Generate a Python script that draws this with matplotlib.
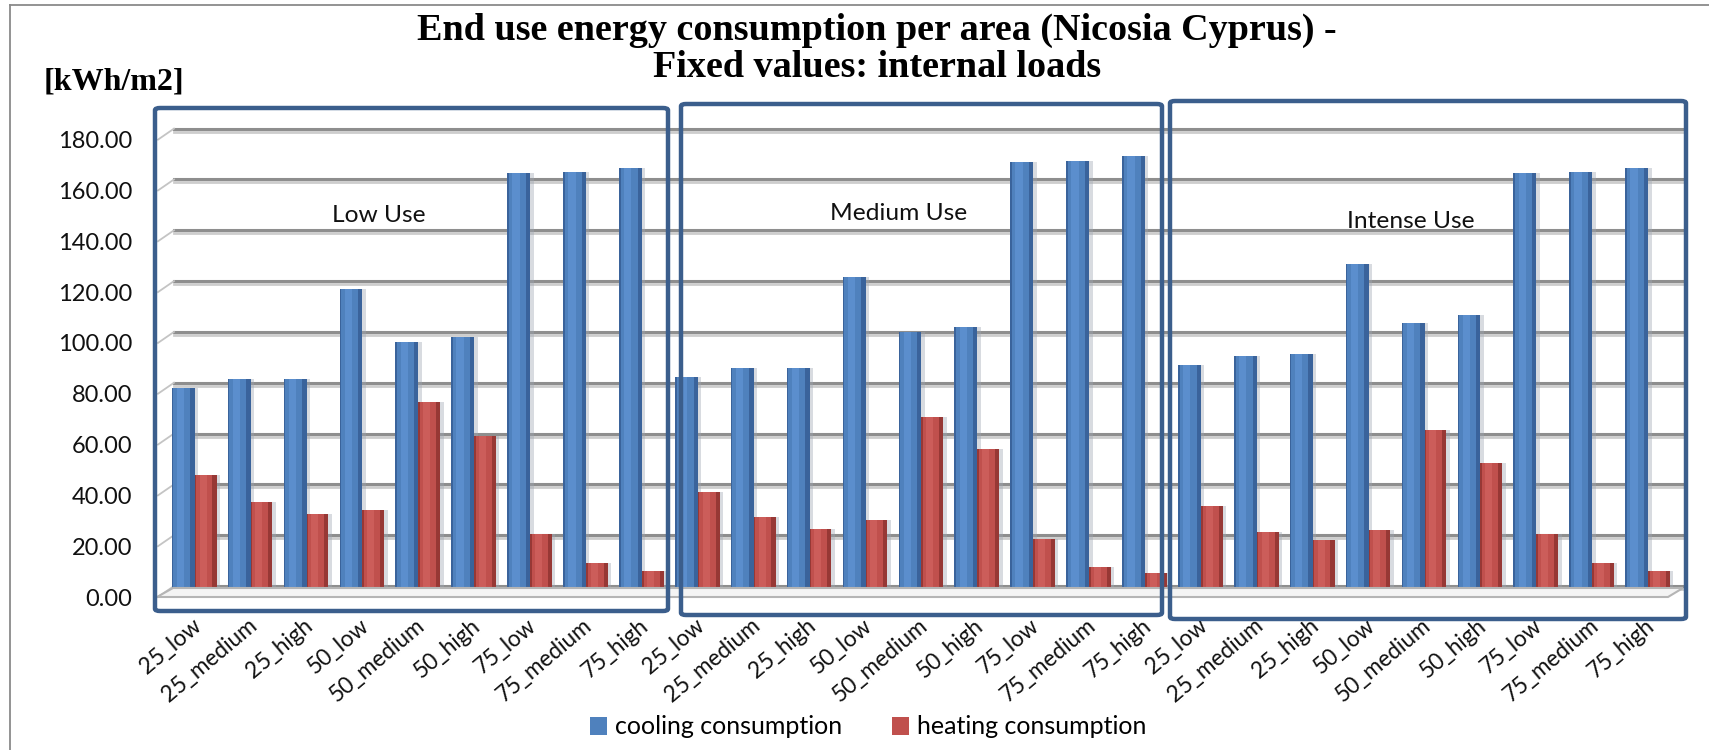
import matplotlib
matplotlib.use("Agg")
import matplotlib.pyplot as plt
from matplotlib import transforms
from matplotlib.patches import FancyBboxPatch, Polygon, Patch
from matplotlib.lines import Line2D
from matplotlib.font_manager import FontProperties
import numpy as np

# ---- data -------------------------------------------------------------
categories = ["25_low", "25_medium", "25_high", "50_low", "50_medium",
              "50_high", "75_low", "75_medium", "75_high"]
groups = ["Low Use", "Medium Use", "Intense Use"]

cooling_low = [80.5, 84.1, 84.1, 119.8, 98.9, 100.8, 165.3, 165.7, 167.4]
heating_low = [46.5, 36.0, 31.0, 32.5, 75.3, 61.8, 23.2, 11.8, 8.5]
cooling_medium = [84.9, 88.4, 88.4, 124.4, 102.8, 104.8, 169.6, 170.0, 171.8]
heating_medium = [39.6, 30.1, 25.3, 28.6, 69.4, 56.6, 21.2, 10.2, 7.9]
cooling_intense = [89.7, 93.3, 93.9, 129.4, 106.4, 109.4, 165.3, 165.7, 167.4]
heating_intense = [34.1, 24.2, 21.0, 24.9, 64.2, 51.1, 23.3, 12.0, 8.8]

y_ticks = [0, 20, 40, 60, 80, 100, 120, 140, 160, 180]
series_names = ["cooling consumption", "heating consumption"]
title_lines = ["End use energy consumption per area (Nicosia Cyprus) -",
               "Fixed values: internal loads"]
unit_label = "[kWh/m2]"

# ---- figure geometry (pixels) ----------------------------------------
W, H, DPI = 1709, 750, 100
SANS = "Lato"
SERIF = "Liberation Serif"


def fx(x):
    return x / W


def fy(y):
    return 1 - y / H


fig = plt.figure(figsize=(W / DPI, H / DPI), dpi=DPI)
fig.patch.set_facecolor("white")
renderer = fig.canvas.get_renderer()


def fit_size(s, width_px, family, weight="normal", base=20.0):
    """Font size (pt) at which string s is width_px pixels wide."""
    fp = FontProperties(family=family, weight=weight, size=base)
    w, _, _ = renderer.get_text_width_height_descent(s, fp, ismath=False)
    return base * width_px / w


title_size = fit_size(title_lines[0], 922, SERIF, "bold")
unit_size = fit_size(unit_label, 140, SERIF, "bold")
ytick_size = fit_size("180.00", 74, SANS)
xtick_size = fit_size("25_medium", 117, SANS)
legend_size = fit_size(series_names[0], 228, SANS)
caption_size = fit_size("Medium Use", 137, SANS)

px_per_unit = 2.541
pitch = 55.9
first_center = 194.5
ax_left, ax_right, ax_base = 157, 1683, 593
ax = fig.add_axes([fx(ax_left), fy(ax_base), (ax_right - ax_left) / W,
                   190 * px_per_unit / H])
ax.set_ylim(0, 190)
ax.set_xlim((ax_left - first_center) / pitch, (ax_right - first_center) / pitch)
ax.axis("off")

cooling = cooling_low + cooling_medium + cooling_intense
heating = heating_low + heating_medium + heating_intense
labels = categories * len(groups)
xs = np.arange(len(labels))

# ---- back wall grid lines and floor ------------------------------------
grid_tr = transforms.blended_transform_factory(fig.transFigure, ax.transData)
back = transforms.offset_copy(grid_tr, fig=fig, x=0, y=7, units="dots")
back_lo = transforms.offset_copy(grid_tr, fig=fig, x=0, y=4, units="dots")
for v in y_ticks:
    ax.add_line(Line2D([fx(174), fx(1683)], [v, v], transform=back_lo,
                       color="#cdcdcd", lw=2.0, zorder=1, clip_on=False))
    ax.add_line(Line2D([fx(174), fx(1683)], [v, v], transform=back,
                       color="#8e8e8e", lw=2.2, zorder=1, clip_on=False))
    y0 = ax_base - v * px_per_unit
    ax.add_line(Line2D([fx(158), fx(174)], [fy(y0 + 4), fy(y0 - 7)],
                       transform=fig.transFigure, color="#c4c4c4", lw=1.3,
                       zorder=1, clip_on=False))

floor = Polygon([(fx(157), fy(597)), (fx(173), fy(588)), (fx(1683), fy(588)),
                 (fx(1668), fy(597))], closed=True, transform=fig.transFigure,
                facecolor="#f4f4f4", edgecolor="#b5b5b5", lw=1.5, zorder=0.5)
fig.add_artist(floor)

# ---- bars with simple cylinder-like shading ----------------------------
def shaded_bars(pos, vals, width, dark, mid, light):
    ax.bar(pos + 0.06, vals, width, color="#9ea6b3", alpha=0.4, zorder=2,
           linewidth=0)
    ax.bar(pos, vals, width, color=dark, zorder=3, linewidth=0)
    ax.bar(pos - width * 0.06, vals, width * 0.74, color=mid, zorder=4,
           linewidth=0)
    ax.bar(pos - width * 0.12, vals, width * 0.32, color=light, zorder=5,
           linewidth=0)


shaded_bars(xs - 0.2, cooling, 0.41, "#3A639B", "#4F81BD", "#5B8ECD")
shaded_bars(xs + 0.2, heating, 0.39, "#973835", "#C0504D", "#CC5D5A")

# ---- y tick labels ------------------------------------------------------
ylab_tr = transforms.offset_copy(
    transforms.blended_transform_factory(fig.transFigure, ax.transData),
    fig=fig, x=0, y=-6, units="dots")
for v in y_ticks:
    ax.text(fx(132), v, f"{v:.2f}", transform=ylab_tr, ha="right",
            va="center", fontsize=ytick_size, family=SANS, color="#111111",
            clip_on=False)

# ---- category labels ----------------------------------------------------
xlab_tr = transforms.offset_copy(
    transforms.blended_transform_factory(ax.transData, fig.transFigure),
    fig=fig, x=-3, y=0, units="dots")
for x, lab in zip(xs, labels):
    ax.text(x, fy(615), lab, transform=xlab_tr, rotation=40,
            rotation_mode="anchor", ha="right", va="top",
            fontsize=xtick_size, family=SANS, color="#111111", clip_on=False)

# ---- group captions and frames ------------------------------------------
caption_pos = [(379, 216), (899, 214), (1411, 222)]
for name, (cx, cy) in zip(groups, caption_pos):
    fig.text(fx(cx), fy(cy), name, ha="center", va="center",
             fontsize=caption_size, family=SANS, color="#111111")

frames = [(153, 106, 670, 613), (679, 102, 1164, 617), (1168, 99, 1688, 621)]
for x0, y0, x1, y1 in frames:
    box = FancyBboxPatch((fx(x0 + 2), fy(y1 - 2)), fx(x1 - x0 - 4),
                         (y1 - y0 - 4) / H,
                         boxstyle="round,pad=0,rounding_size=0.003",
                         transform=fig.transFigure, facecolor="none",
                         edgecolor="#3B5E8C", lw=3.2, zorder=10)
    fig.add_artist(box)

# ---- titles -------------------------------------------------------------
fig.text(fx(877), fy(40), title_lines[0], ha="center", va="baseline",
         fontsize=title_size, family=SERIF, weight="bold")
fig.text(fx(877), fy(77), title_lines[1], ha="center", va="baseline",
         fontsize=title_size, family=SERIF, weight="bold")
fig.text(fx(44), fy(82), unit_label, ha="left", va="center",
         fontsize=unit_size, family=SERIF, weight="bold")

# ---- legend -------------------------------------------------------------
handles = [Patch(facecolor="#4F81BD", edgecolor="none"),
           Patch(facecolor="#C0504D", edgecolor="none")]
fig.legend(handles, series_names, loc="center", ncol=2,
           bbox_to_anchor=(fx(868), fy(727)), frameon=False,
           prop={"family": SANS, "size": legend_size}, handlelength=0.7,
           handleheight=0.7, handletextpad=0.3, columnspacing=2.0)

# ---- outer chart border -------------------------------------------------
fig.add_artist(Line2D([fx(10), fx(10)], [fy(5), 0], transform=fig.transFigure,
                      color="#8a8a8a", lw=1.3))
fig.add_artist(Line2D([fx(10), 1], [fy(5), fy(5)], transform=fig.transFigure,
                      color="#8a8a8a", lw=1.3))

fig.savefig("out.png", dpi=DPI, facecolor="white")
